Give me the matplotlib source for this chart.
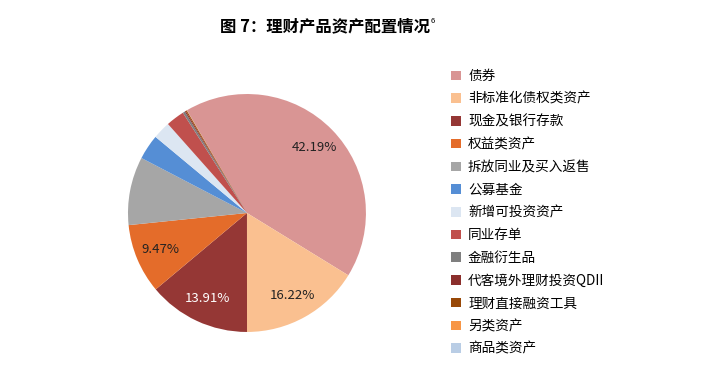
import matplotlib
matplotlib.use("Agg")
import matplotlib.pyplot as plt
from matplotlib.patches import Patch

plt.rcParams['font.family'] = ['Noto Sans CJK SC', 'DejaVu Sans']

# 理财产品资产配置 (%)
categories = ['债券', '非标准化债权类资产', '现金及银行存款', '权益类资产', '拆放同业及买入返售',
              '公募基金', '新增可投资资产', '同业存单', '金融衍生品', '代客境外理财投资QDII',
              '理财直接融资工具', '另类资产', '商品类资产']
shares = [42.19, 16.22, 13.91, 9.47, 9.27, 3.4, 2.4, 2.5, 0.3, 0.15, 0.15, 0.03, 0.01]
colors = ['#D99594', '#FAC090', '#953735', '#E46C2A', '#A6A6A6', '#558ED5', '#DCE6F2',
          '#C0504D', '#7F7F7F', '#8B2F2C', '#984807', '#F79646', '#B9CDE5']
shown = ['42.19%', '16.22%', '13.91%', '9.47%']

fig = plt.figure(figsize=(7.04, 3.83), dpi=100)
ax = fig.add_axes([0.1818, 0.1332, 0.338, 0.6214])

idx = iter(range(len(shares)))


def fmt(p):
    i = next(idx)
    return shown[i] if i < len(shown) else ''


wedges, texts, autotexts = ax.pie(shares, colors=colors, startangle=90 + 30.3,
                                  counterclock=False, autopct=fmt, pctdistance=0.79,
                                  wedgeprops=dict(linewidth=0),
                                  textprops=dict(fontsize=9.5, color='#222222'))
autotexts[2].set_color('white')
ax.set_xlim(-1, 1)
ax.set_ylim(-1, 1)
ax.set_aspect('equal')
ax.axis('off')

handles = [Patch(facecolor=c, edgecolor='none') for c in colors]
fig.legend(handles, categories, loc='upper left', bbox_to_anchor=(0.631, 0.837),
           frameon=False, fontsize=9.8, handlelength=0.7, handleheight=0.7,
           handletextpad=0.55, labelspacing=0.64, borderpad=0)

fig.text(0.462, 0.932, '图 7：理财产品资产配置情况', ha='center', va='center',
         fontsize=11.8, fontweight='bold')
fig.text(0.612, 0.944, '6', ha='left', va='center', fontsize=5.5)

fig.savefig('out.png', dpi=100)
